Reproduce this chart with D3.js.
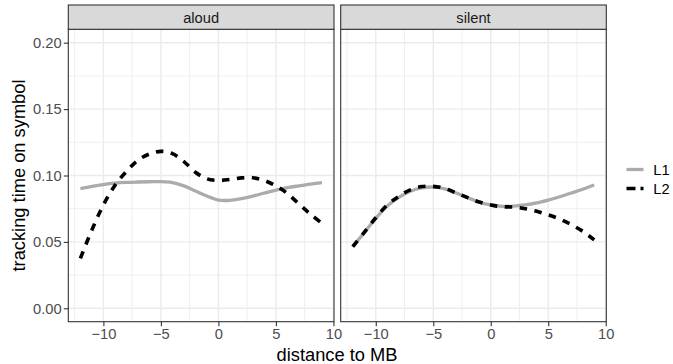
<!DOCTYPE html>
<html>
<head>
<meta charset="utf-8">
<script src="https://cdn.jsdelivr.net/npm/d3@7"></script>
<style>
  body { margin: 0; background: #fff; }
  svg { display: block; font-family: "Liberation Sans", Arial, sans-serif; }
</style>
</head>
<body>
<svg width="673" height="364"></svg>
<script>
// distance to MB, sampled at whole units
var distance = [-12, -11, -10, -9, -8, -7, -6, -5, -4, -3, -2, -1, 0, 1, 2, 3, 4, 5, 6, 7, 8, 9];

var aloudL1 = [0.0901, 0.0918, 0.0932, 0.0942, 0.0948, 0.0951, 0.0953, 0.0954, 0.0947, 0.0922, 0.0883, 0.0845, 0.0815, 0.0813, 0.0826, 0.0845, 0.0868, 0.0890, 0.0908, 0.0922, 0.0935, 0.0946];
var aloudL2 = [0.0376, 0.0590, 0.0778, 0.0925, 0.1030, 0.1115, 0.1162, 0.1182, 0.1165, 0.1105, 0.1025, 0.0975, 0.0963, 0.0970, 0.0982, 0.0983, 0.0962, 0.0922, 0.0864, 0.0786, 0.0710, 0.0640];
var silentL1 = [0.0464, 0.0570, 0.0677, 0.0770, 0.0835, 0.0882, 0.0907, 0.0913, 0.0900, 0.0868, 0.0833, 0.0800, 0.0778, 0.0768, 0.0770, 0.0778, 0.0793, 0.0815, 0.0840, 0.0868, 0.0896, 0.0928];
var silentL2 = [0.0464, 0.0572, 0.0682, 0.0778, 0.0843, 0.0892, 0.0917, 0.0918, 0.0903, 0.0868, 0.0833, 0.0800, 0.0778, 0.0765, 0.0762, 0.0750, 0.0730, 0.0704, 0.0672, 0.0630, 0.0580, 0.0515];

var panels = ["aloud", "silent"];
var groups = ["L1", "L2"];
var xTicks = [-10, -5, 0, 5, 10];
var yTicks = [0, 0.05, 0.10, 0.15, 0.20];

var seriesBy = {
  aloud: { L1: aloudL1, L2: aloudL2 },
  silent: { L1: silentL1, L2: silentL2 }
};

var svg = d3.select("svg");
var panelTop = 29.3, panelBottom = 321.7, stripTop = 5;
var panelX = { aloud: [68.3, 334], silent: [340.7, 606.3] };
var smallFont = 14.7, bigFont = 18.3;

var y = d3.scaleLinear().domain([-0.0101, 0.2101]).range([panelBottom, panelTop]);

var lineStyle = {
  L1: { color: "#ababab", dash: null, width: 3.3 },
  L2: { color: "#000000", dash: "7.5,7.5", width: 3.6 }
};

panels.forEach(function(p, i) {
  var x = d3.scaleLinear().domain([-13.05, 10.05]).range(panelX[p]);
  var g = svg.append("g");
  var x0 = panelX[p][0], x1 = panelX[p][1];

  g.append("rect")
    .attr("x", x0).attr("y", panelTop).attr("width", x1 - x0).attr("height", panelBottom - panelTop)
    .attr("fill", "#fff");

  // minor grid
  var xMinor = [-12.5, -7.5, -2.5, 2.5, 7.5];
  var yMinor = [0.025, 0.075, 0.125, 0.175];
  g.selectAll(".xminor").data(xMinor).enter().append("line")
    .attr("x1", d => x(d)).attr("x2", d => x(d)).attr("y1", panelTop).attr("y2", panelBottom)
    .attr("stroke", "#ebebeb").attr("stroke-width", 0.8);
  g.selectAll(".yminor").data(yMinor).enter().append("line")
    .attr("x1", x0).attr("x2", x1).attr("y1", d => y(d)).attr("y2", d => y(d))
    .attr("stroke", "#ebebeb").attr("stroke-width", 0.8);
  // major grid
  g.selectAll(".xmajor").data(xTicks.filter(d => x(d) <= x1)).enter().append("line")
    .attr("x1", d => x(d)).attr("x2", d => x(d)).attr("y1", panelTop).attr("y2", panelBottom)
    .attr("stroke", "#ebebeb").attr("stroke-width", 1.4);
  g.selectAll(".ymajor").data(yTicks).enter().append("line")
    .attr("x1", x0).attr("x2", x1).attr("y1", d => y(d)).attr("y2", d => y(d))
    .attr("stroke", "#ebebeb").attr("stroke-width", 1.4);

  // curves
  groups.forEach(function(s) {
    var vals = seriesBy[p][s];
    var line = d3.line()
      .x((d, k) => x(distance[k]))
      .y(d => y(d))
      .curve(d3.curveCatmullRom.alpha(0.5));
    g.append("path")
      .attr("d", line(vals))
      .attr("fill", "none")
      .attr("stroke", lineStyle[s].color)
      .attr("stroke-width", lineStyle[s].width)
      .attr("stroke-dasharray", lineStyle[s].dash);
  });

  // panel border
  g.append("rect")
    .attr("x", x0).attr("y", panelTop).attr("width", x1 - x0).attr("height", panelBottom - panelTop)
    .attr("fill", "none").attr("stroke", "#333").attr("stroke-width", 1.1);

  // strip
  g.append("rect")
    .attr("x", x0).attr("y", stripTop).attr("width", x1 - x0).attr("height", panelTop - stripTop)
    .attr("fill", "#d9d9d9").attr("stroke", "#333").attr("stroke-width", 1.1);
  g.append("text")
    .attr("x", (x0 + x1) / 2).attr("y", 22.7)
    .attr("text-anchor", "middle")
    .attr("font-size", smallFont).attr("fill", "#1a1a1a")
    .text(p);

  // x axis
  var xAxis = d3.axisBottom(x).tickValues(xTicks).tickSize(4.5).tickPadding(2.4)
    .tickFormat(d => d < 0 ? "\u2212" + Math.abs(d) : d);
  var ax = g.append("g").attr("transform", "translate(0," + panelBottom + ")").call(xAxis);
  ax.select(".domain").remove();
  ax.selectAll(".tick line").attr("stroke", "#333").attr("stroke-width", 1.1);
  ax.selectAll(".tick text").attr("font-size", smallFont).attr("fill", "#4d4d4d")
    .attr("font-family", "Liberation Sans, Arial, sans-serif");

  if (i === 0) {
    var yAxis = d3.axisLeft(y).tickValues(yTicks).tickSize(4.5).tickPadding(2.1)
      .tickFormat(d3.format(".2f"));
    var ay = g.append("g").attr("transform", "translate(" + x0 + ",0)").call(yAxis);
    ay.select(".domain").remove();
    ay.selectAll(".tick line").attr("stroke", "#333").attr("stroke-width", 1.1);
    ay.selectAll(".tick text").attr("font-size", smallFont).attr("fill", "#4d4d4d")
      .attr("font-family", "Liberation Sans, Arial, sans-serif");
  }
});

// axis titles
svg.append("text")
  .attr("x", 337).attr("y", 361)
  .attr("text-anchor", "middle").attr("font-size", bigFont).attr("fill", "#000")
  .text("distance to MB");
svg.append("text")
  .attr("transform", "translate(25," + (panelTop + panelBottom) / 2 + ") rotate(-90)")
  .attr("text-anchor", "middle").attr("font-size", bigFont).attr("fill", "#000")
  .text("tracking time on symbol");

// legend
var legY = d3.scalePoint().domain(groups).range([169.5, 188.5]);
var leg = svg.append("g");
groups.forEach(function(s) {
  leg.append("line")
    .attr("x1", 626.5).attr("x2", 643.5)
    .attr("y1", legY(s)).attr("y2", legY(s))
    .attr("stroke", lineStyle[s].color).attr("stroke-width", lineStyle[s].width)
    .attr("stroke-dasharray", s === "L2" ? "9,5" : null);
  leg.append("text")
    .attr("x", 653.3).attr("y", legY(s) + 5.2)
    .attr("font-size", smallFont).attr("fill", "#000")
    .text(s);
});
</script>
</body>
</html>
